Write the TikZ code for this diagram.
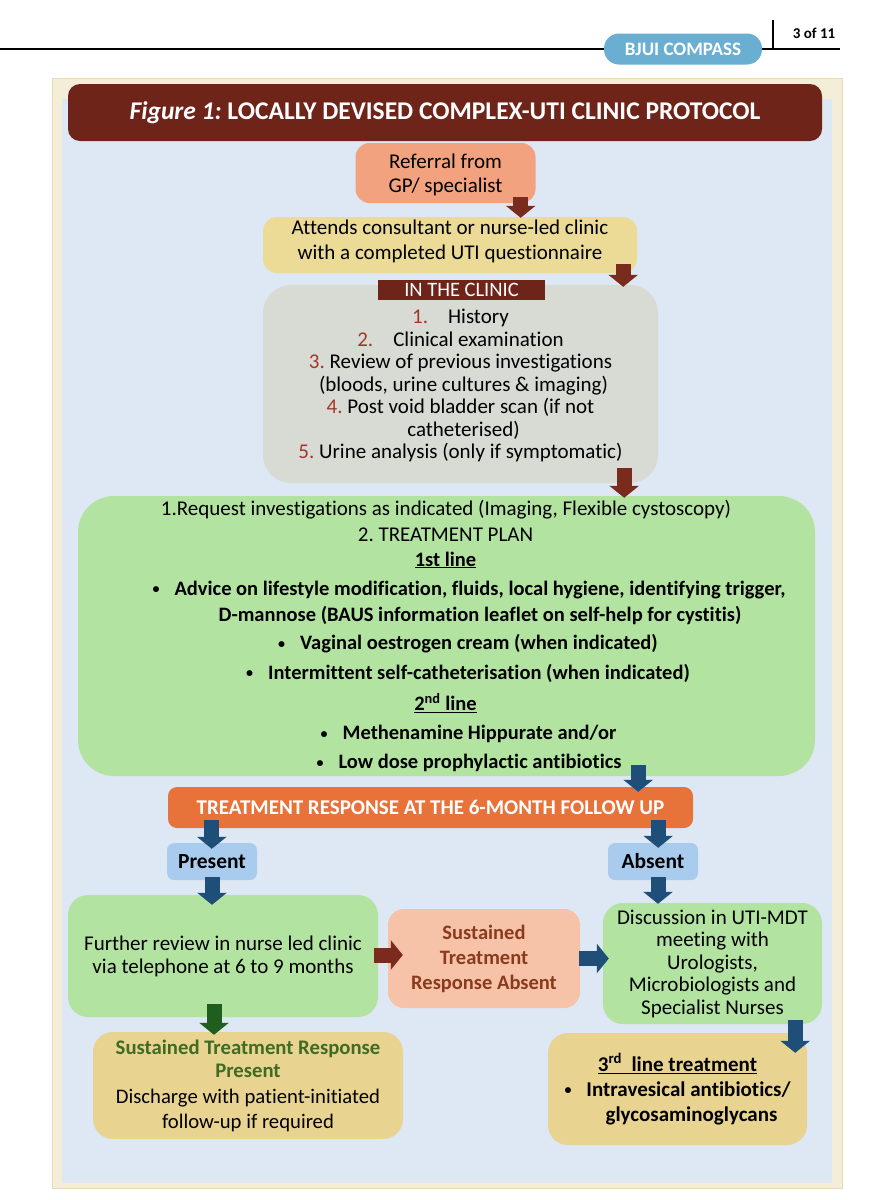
\documentclass[tikz,border=0pt]{standalone}
\usepackage{fontspec}
\setmainfont{Carlito}[Ligatures=NoCommon]
\usetikzlibrary{arrows.meta,calc}
\definecolor{cream}{HTML}{F4EED8}
\definecolor{creamedge}{HTML}{E6DBB6}
\definecolor{bgblue}{HTML}{DDE8F4}
\definecolor{titlebrown}{HTML}{6E2419}
\definecolor{arrbrown}{HTML}{7B2A1E}
\definecolor{numred}{HTML}{A3362B}
\definecolor{refsalmon}{HTML}{F2A27E}
\definecolor{yel}{HTML}{EBDB97}
\definecolor{gry}{HTML}{D8DAD4}
\definecolor{grn}{HTML}{B3E3A1}
\definecolor{arrblue}{HTML}{1F4E79}
\definecolor{orng}{HTML}{E8733A}
\definecolor{pblue}{HTML}{A9CCEE}
\definecolor{absalmon}{HTML}{F6C2A8}
\definecolor{abtext}{HTML}{8A3B1E}
\definecolor{arrgreen}{HTML}{1F5E1F}
\definecolor{grntext}{HTML}{3F6B22}
\definecolor{yeltwo}{HTML}{E8D490}
\definecolor{pill}{HTML}{6AAFD1}
\newcommand\myfs[2]{\fontsize{#1pt}{#2pt}\selectfont}
\newcommand\mybul{\raisebox{1.5pt}{\myfs{14}{14}•}\hspace{15pt}}
\frenchspacing
\begin{document}
\frenchspacing
\begin{tikzpicture}[x=1pt,y=-1pt,
  fbox/.style={inner sep=0pt, align=center, rounded corners=14pt},
  txt/.style={inner sep=0pt, align=center},
  barrow/.style={draw=arrbrown, line width=15pt, -{Triangle[width=29pt,length=12pt]}},
  blarrow/.style={draw=arrblue, line width=15pt, -{Triangle[width=29pt,length=12pt]}},
  garrow/.style={draw=arrgreen, line width=15pt, -{Triangle[width=29pt,length=12pt]}}
]
\useasboundingbox (0,0) rectangle (892,1200);
\fill[white] (0,0) rectangle (892,1200);
% header
\draw[line width=2.2pt] (0,49) -- (840,49);
\draw[line width=1.2pt] (773,20) -- (773,49);
\node[fill=pill, rounded corners=15pt, minimum width=158pt, minimum height=31pt, inner sep=0pt, text=white, font=\bfseries\myfs{19}{22}] (pillnode) at (683,49) {BJUI COMPASS};
\node[txt, font=\bfseries\myfs{15}{18}] (pagenum) at (814,33) {3 of 11};
% frame
\fill[cream, draw=creamedge, line width=0.8pt] (52,78) rectangle (842,1188);
\fill[bgblue] (62,99) rectangle (832,1183);
% title
\node[fbox, rounded corners=12pt, fill=titlebrown, minimum width=754pt, minimum height=57pt, text=white, font=\bfseries\myfs{25.5}{28}] (title) at (445,112.5) {\textit{Figure 1:} LOCALLY DEVISED COMPLEX-UTI CLINIC PROTOCOL};
% boxes
\node[fbox, fill=refsalmon, minimum width=180pt, minimum height=60pt] (ref) at (445.5,173) {};
\node[txt, font=\myfs{21}{24.5}] (reft) at (445.5,175) {Referral from\\GP/ specialist};
\node[fbox, fill=yel, minimum width=374pt, minimum height=56pt] (att) at (450,245) {};
\node[txt, font=\myfs{21}{24.5}] (attt) at (450,241.5) {Attends consultant or nurse-led clinic\\with a completed UTI questionnaire};
\node[fbox, rounded corners=28pt, fill=gry, minimum width=395pt, minimum height=198pt] (clinic) at (460.5,384) {};
\node[txt, font=\myfs{21}{22.5}] (clinict) at (460.5,385.5) {{\color{numred}1.}\hspace{20pt}History\\
{\color{numred}2.}\hspace{20pt}Clinical examination\\
{\color{numred}3.} Review of previous investigations\\
\hspace*{6pt}(bloods, urine cultures \& imaging)\\
{\color{numred}4.} Post void bladder scan (if not\\
\hspace*{6pt}catheterised)\\
{\color{numred}5.} Urine analysis (only if symptomatic)};
\node[fill=titlebrown, minimum width=167pt, minimum height=20pt, inner sep=0pt, text=white, font=\myfs{20.5}{21}] (inclinic) at (461.5,290) {IN THE CLINIC};
% green
\node[fbox, rounded corners=36pt, fill=grn, minimum width=737pt, minimum height=280pt] (green) at (446.5,636) {};
\node[txt, font=\myfs{21}{23}] (g1) at (446,510) {1.Request investigations as indicated (Imaging, Flexible cystoscopy)};
\node[txt, font=\myfs{21}{23}] (g2) at (445.5,535) {2. TREATMENT PLAN};
\node[txt, font=\bfseries\myfs{20.5}{23}] (g3) at (445.5,560) {\underline{1st line}};
\node[txt, font=\bfseries\myfs{20.5}{23}] (g4) at (469,590) {\mybul Advice on lifestyle modification, fluids, local hygiene, identifying trigger,};
\node[txt, font=\bfseries\myfs{20.5}{23}] (g5) at (480,615) {D-mannose (BAUS information leaflet on self-help for cystitis)};
\node[txt, font=\bfseries\myfs{20.5}{23}] (g6) at (468,644) {\mybul Vaginal oestrogen cream (when indicated)};
\node[txt, font=\bfseries\myfs{20.5}{23}] (g7) at (468,673) {\mybul Intermittent self-catheterisation (when indicated)};
\node[txt, font=\bfseries\myfs{20.5}{23}] (g8) at (445.5,703) {\underline{2\textsuperscript{nd} line}};
\node[txt, font=\bfseries\myfs{20.5}{23}] (g9) at (468.5,734) {\mybul Methenamine Hippurate and/or};
\node[txt, font=\bfseries\myfs{20.5}{23}] (g10) at (469,763) {\mybul Low dose prophylactic antibiotics};
% orange
\node[fbox, rounded corners=9pt, fill=orng, minimum width=525pt, minimum height=41pt, text=white, font=\bfseries\myfs{21}{23}] (orange) at (430.5,807.5) {TREATMENT RESPONSE AT THE 6-MONTH FOLLOW UP};
\node[fbox, rounded corners=7pt, fill=pblue, minimum width=90pt, minimum height=37pt, font=\bfseries\myfs{21.5}{23}] (present) at (212,861.5) {Present};
\node[fbox, rounded corners=7pt, fill=pblue, minimum width=90pt, minimum height=37pt, font=\bfseries\myfs{21.5}{23}] (absent) at (653,861.5) {Absent};
% lower boxes
\node[fbox, rounded corners=20pt, fill=grn, minimum width=310pt, minimum height=122pt, font=\myfs{21}{23}] (further) at (223,956) {Further review in nurse led clinic\\via telephone at 6 to 9 months};
\node[fbox, rounded corners=16pt, fill=absalmon, minimum width=192pt, minimum height=99pt, text=abtext, font=\bfseries\myfs{20.5}{25}] (susabs) at (484,958.5) {Sustained\\Treatment\\Response Absent};
\node[fbox, rounded corners=20pt, fill=grn, minimum width=219pt, minimum height=121pt, font=\myfs{21}{22.5}] (disc) at (712.5,963.5) {Discussion in UTI-MDT\\meeting with\\Urologists,\\Microbiologists and\\Specialist Nurses};
\node[fbox, rounded corners=20pt, fill=yeltwo, minimum width=259pt, minimum height=112pt, font=\bfseries\myfs{21}{25}] (third) at (677.5,1089) {\underline{3\textsuperscript{rd}\ \ line treatment}\\
\mybul Intravesical antibiotics/\\
\hspace*{28pt}glycosaminoglycans};
\node[fbox, rounded corners=20pt, fill=yeltwo, minimum width=310pt, minimum height=107pt, font=\myfs{20.7}{24.5}] (suspres) at (248,1085.5) {{\bfseries\color{grntext}Sustained Treatment Response}\\[-1.5pt]
{\bfseries\color{grntext}Present}\\[2pt]
Discharge with patient-initiated\\
follow-up if required};
% arrows
\coordinate (a1s) at ($(ref.south east)+(-15,-6)$);
\draw[barrow] (a1s) -- ($(a1s |- att.north)+(0,1)$);
\coordinate (a2s) at ($(att.south east)+(-14,-9)$);
\draw[barrow] (a2s) -- ($(a2s |- clinic.north)+(0,2)$);
\coordinate (a3s) at ($(clinic.south east)+(-34,-15)$);
\draw[barrow] (a3s) -- ($(a3s |- green.north)+(0,2)$);
\coordinate (a4s) at ($(green.south east)+(-177,-11)$);
\draw[blarrow] (a4s) -- ($(a4s |- orange.north)+(0,5)$);
\coordinate (a5s) at ($(orange.south west)+(44,-8)$);
\draw[blarrow] (a5s) -- ($(a5s |- present.north)+(0,6)$);
\coordinate (a6s) at ($(orange.south east)+(-35,-8)$);
\draw[blarrow] (a6s) -- ($(a6s |- absent.north)+(0,5)$);
\coordinate (a7s) at ($(present.south)+(0,-3)$);
\draw[blarrow] (a7s) -- ($(a7s |- further.north)+(0,10)$);
\coordinate (a8s) at ($(absent.south)+(5,-3)$);
\draw[blarrow] (a8s) -- ($(a8s |- disc.north)+(0,1)$);
\coordinate (a9s) at ($(further.south)+(-9,-13)$);
\draw[garrow] (a9s) -- ($(a9s |- suspres.north)+(0,3)$);
\coordinate (a10s) at ($(further.east)+(-4,-1)$);
\draw[barrow] (a10s) -- ($(a10s -| susabs.west)+(15,0)$);
\coordinate (a11s) at ($(susabs.east)+(-1,0)$);
\draw[blarrow] (a11s) -- ($(a11s -| disc.west)+(6,0)$);
\coordinate (a12s) at ($(disc.south east)+(-27,-4)$);
\draw[blarrow] (a12s) -- ($(a12s |- third.north)+(0,20)$);
\end{tikzpicture}
\end{document}
